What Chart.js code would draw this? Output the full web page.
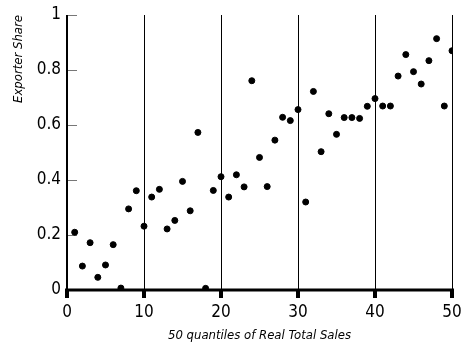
<!DOCTYPE html>
<html><head><meta charset="utf-8">
<script src="https://cdn.jsdelivr.net/npm/chart.js@4/dist/chart.umd.min.js"></script>
<style>html,body{margin:0;padding:0;background:#fff}</style>
</head><body>
<canvas id="c" width="462" height="343"></canvas>
<script>
const quantiles = [];
for (let i = 1; i <= 50; i++) quantiles.push(i);
const exporterShare = [
  0.210, 0.087, 0.172, 0.046, 0.091, 0.165, 0.007, 0.295, 0.361, 0.232,
  0.338, 0.366, 0.222, 0.253, 0.395, 0.288, 0.573, 0.006, 0.362, 0.412,
  0.338, 0.419, 0.375, 0.761, 0.482, 0.376, 0.545, 0.628, 0.616, 0.656,
  0.320, 0.722, 0.503, 0.641, 0.566, 0.627, 0.627, 0.624, 0.668, 0.696,
  0.669, 0.669, 0.778, 0.856, 0.794, 0.749, 0.834, 0.914, 0.669, 0.870
];
const xTickValues = [0, 10, 20, 30, 40, 50];
const yTickValues = [0, 0.2, 0.4, 0.6, 0.8, 1];
const yTickLabels = ['0', '0.2', '0.4', '0.6', '0.8', '1'];
const xTitle = '50 quantiles of Real Total Sales';
const yTitle = 'Exporter Share';

const FONT = '"Liberation Sans Narrow", "DejaVu Sans Condensed", sans-serif';

const axesPlugin = {
  id: 'axesPlugin',
  beforeDatasetsDraw(chart) {
    const ctx = chart.ctx;
    const xs = chart.scales.x, ys = chart.scales.y;
    const ca = chart.chartArea;
    ctx.save();
    ctx.strokeStyle = '#777';
    ctx.lineWidth = 1;
    yTickValues.forEach(v => {
      if (v === 0) return;
      const py = Math.round(ys.getPixelForValue(v)) + 0.5;
      ctx.beginPath();
      ctx.moveTo(ca.left, py);
      ctx.lineTo(ca.left + 10, py);
      ctx.stroke();
    });
    ctx.strokeStyle = '#000';
    ctx.lineWidth = 2;
    ctx.beginPath();
    ctx.moveTo(ca.left, ys.getPixelForValue(1));
    ctx.lineTo(ca.left, ys.getPixelForValue(0));
    ctx.stroke();
    ctx.lineWidth = 3;
    const y0 = ys.getPixelForValue(0);
    ctx.beginPath();
    ctx.moveTo(xs.getPixelForValue(0) - 2, y0);
    ctx.lineTo(xs.getPixelForValue(50) + 2, y0);
    ctx.stroke();
    ctx.fillStyle = '#000';
    xTickValues.forEach(v => {
      const px = xs.getPixelForValue(v);
      ctx.fillRect(px - 2, y0, 4, 8);
    });
    ctx.restore();
  }
};

new Chart(document.getElementById('c'), {
  type: 'scatter',
  data: {
    datasets: [{
      data: quantiles.map((q, i) => ({ x: q, y: exporterShare[i] })),
      backgroundColor: '#000',
      borderColor: '#000',
      pointRadius: 3,
      pointHoverRadius: 3
    }]
  },
  options: {
    responsive: false,
    animation: false,
    layout: { padding: { top: 15, right: 10, left: 0, bottom: 0 } },
    plugins: { legend: { display: false }, tooltip: { enabled: false } },
    scales: {
      x: {
        type: 'linear', min: 0, max: 50,
        afterBuildTicks(s) { s.ticks = xTickValues.map(v => ({ value: v })); },
        afterFit(s) { s.height = 53; s.paddingRight = 0; s.paddingLeft = 0; },
        border: { display: false },
        grid: {
          drawTicks: false,
          color: c => (c.tick && c.tick.value === 0) ? 'rgba(0,0,0,0)' : '#000',
          lineWidth: 1
        },
        ticks: {
          padding: 12, color: '#000', maxRotation: 0,
          font: { family: FONT, size: 17 },
          callback: v => String(v)
        },
        title: {
          display: true, text: xTitle, color: '#000',
          font: { family: FONT, size: 13, style: 'italic' },
          padding: { top: 1, bottom: 0 }
        }
      },
      y: {
        type: 'linear', min: 0, max: 1,
        afterBuildTicks(s) { s.ticks = yTickValues.map(v => ({ value: v })); },
        afterFit(s) { s.width = 67; s.paddingTop = 0; s.paddingBottom = 0; },
        border: { display: false },
        grid: { display: false, drawTicks: false },
        ticks: {
          padding: 6, color: '#000',
          font: { family: FONT, size: 17 },
          callback: (v) => yTickLabels[yTickValues.indexOf(v)] ?? String(v)
        },
        title: {
          display: true, text: yTitle, color: '#000', align: 'end',
          font: { family: FONT, size: 13, style: 'italic' },
          padding: { top: 11, bottom: 4 }
        }
      }
    }
  },
  plugins: [axesPlugin]
});
</script>
</body></html>
